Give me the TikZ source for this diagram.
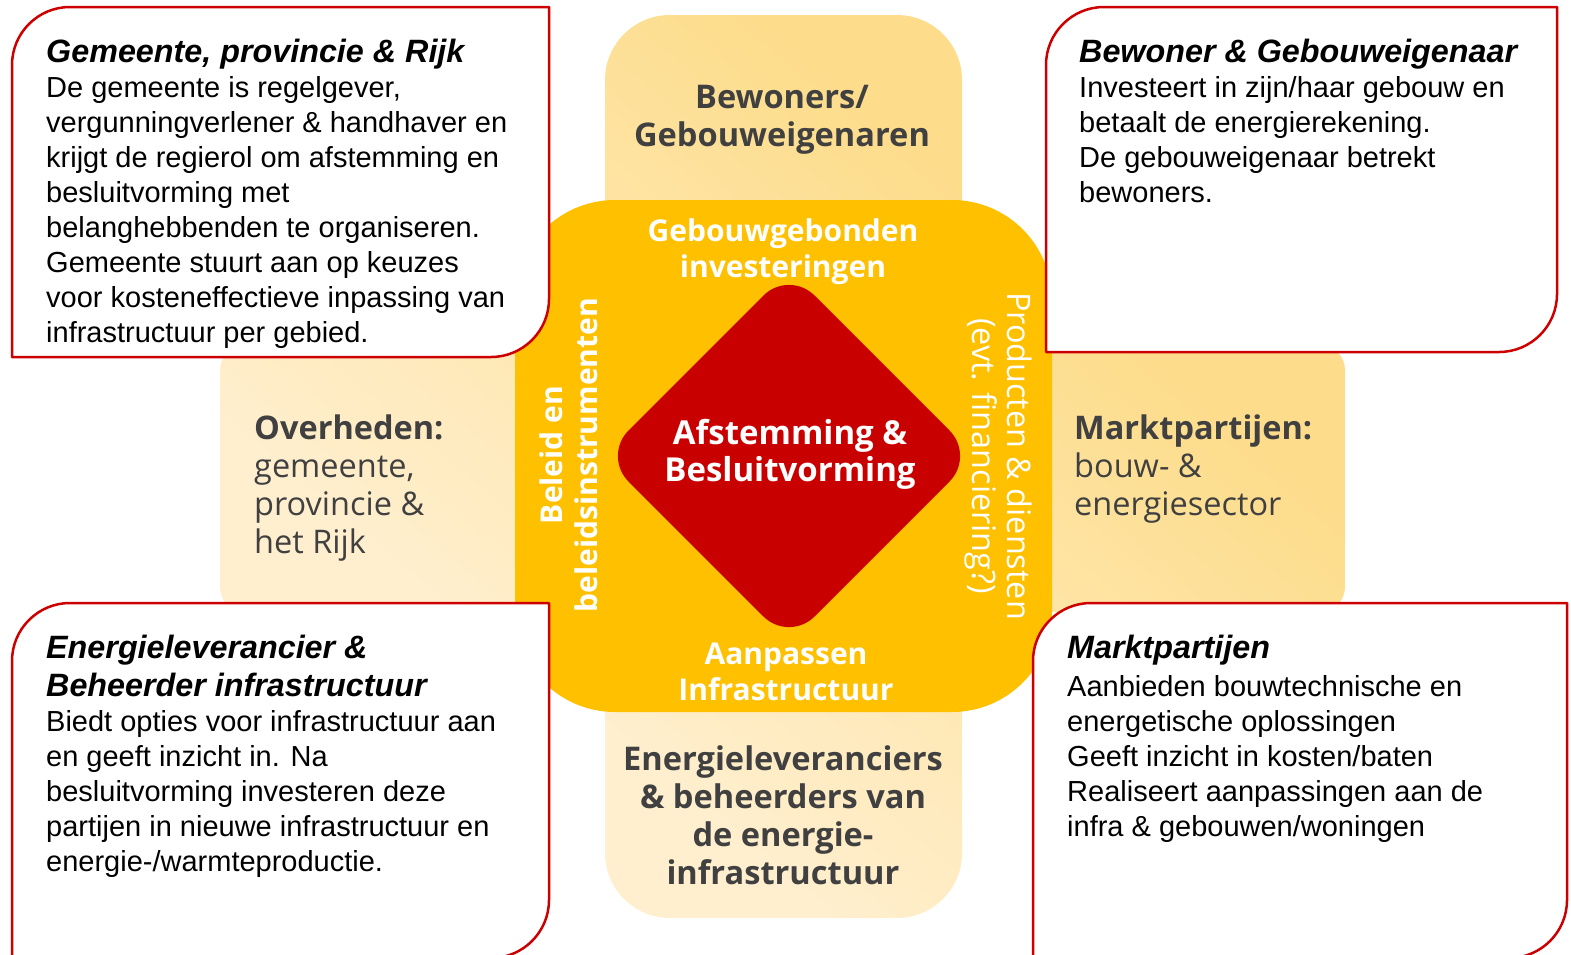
\documentclass[tikz,border=0pt]{standalone}
\usepackage{fontspec}
\setmainfont{Liberation Sans}
\newfontfamily\lab{Open Sans}
\definecolor{boxred}{HTML}{CC0000}
\definecolor{diamondred}{HTML}{C80000}
\definecolor{orangey}{HTML}{FFC000}
\definecolor{paledark}{HTML}{FDDD8C}
\definecolor{palelight}{HTML}{FFEFCF}
\definecolor{labgray}{HTML}{404040}
\tikzset{
  palebar/.style={top color=paledark, bottom color=palelight, shading angle=-40, draw=none},
  infobox/.style={draw=boxred, line width=2.5pt, fill=white, line join=round},
  boxtext/.style={anchor=base west, inner sep=0pt, text=black, font=\fontsize{29}{35}\selectfont},
  graylbl/.style={anchor=base, inner sep=0pt, text=labgray, font=\lab\fontsize{32.6}{38}\selectfont},
  whitelbl/.style={anchor=base, inner sep=0pt, text=white, font=\lab\fontsize{30}{36}\selectfont},
  sidelbl/.style={anchor=base west, inner sep=0pt, text=labgray, font=\lab\fontsize{32.5}{38}\selectfont},
}
\newcommand{\hd}[1]{{\fontsize{32.3}{35}\selectfont\bfseries\itshape #1}}
\begin{document}
\begin{tikzpicture}[x=1pt,y=-1pt]
\useasboundingbox (0,0) rectangle (1571,954);
% pale bars
\shade[palebar, rounded corners=25pt] (220,345) rectangle (1345,612);
\shade[palebar, rounded corners=65pt] (605,15) rectangle (962,918);
% orange square
\fill[orangey, rounded corners=100pt] (515,200) rectangle (1052,712);
% diamond
\fill[diamondred, rounded corners=36pt] (789,270) -- (975,456) -- (789,642) -- (603,456) -- cycle;
% info boxes
\draw[infobox] (12,200) [rounded corners=58pt] -- (12,7) [sharp corners] -- (549,7) [rounded corners=58pt] -- (549,357) [sharp corners] -- (12,357) -- cycle;
\draw[infobox] (1046,200) [rounded corners=58pt] -- (1046,7) [sharp corners] -- (1557,7) [rounded corners=58pt] -- (1557,352) [sharp corners] -- (1046,352) -- cycle;
\draw[infobox] (12,800) [rounded corners=58pt] -- (12,603) [sharp corners] -- (549,603) [rounded corners=58pt] -- (549,958) [sharp corners] -- (12,958) -- cycle;
\draw[infobox] (1033,800) [rounded corners=58pt] -- (1033,603) [sharp corners] -- (1567,603) [rounded corners=58pt] -- (1567,958) [sharp corners] -- (1033,958) -- cycle;
% box texts
\node[boxtext] (tl) at (46,62) {\parbox[t]{520pt}{\raggedright
  \hd{Gemeente, provincie \& Rijk}\\
  De gemeente is regelgever,\\
  vergunningverlener \& handhaver en\\
  krijgt de regierol om afstemming en\\
  besluitvorming met\\
  belanghebbenden te organiseren.\\
  Gemeente stuurt aan op keuzes\\
  voor kosteneffectieve inpassing van\\
  infrastructuur per gebied.}};
\node[boxtext] (tr) at (1079,62) {\parbox[t]{480pt}{\raggedright
  \hd{Bewoner \& Gebouweigenaar}\\
  Investeert in zijn/haar gebouw en\\
  betaalt de energierekening.\\
  De gebouweigenaar betrekt\\
  bewoners.}};
\node[boxtext] (bl) at (46,658) {\parbox[t]{520pt}{\raggedright
  \hd{Energieleverancier \&}\\[3pt]
  \hd{Beheerder infrastructuur}\\
  Biedt opties voor infrastructuur aan\\
  en geeft inzicht in. Na\\
  besluitvorming investeren deze\\
  partijen in nieuwe infrastructuur en\\
  energie-/warmteproductie.}};
\node[boxtext] (br) at (1067,658) {\parbox[t]{500pt}{\raggedright
  \hd{Marktpartijen}\\[3pt]
  Aanbieden bouwtechnische en\\
  energetische oplossingen\\
  Geeft inzicht in kosten/baten\\
  Realiseert aanpassingen aan de\\
  infra \& gebouwen/woningen}};
% central labels
\node[graylbl] (bew) at (782,108) {\parbox[t]{400pt}{\centering\bfseries Bewoners/\\Gebouweigenaren}};
\node[graylbl] (ener) at (783,770) {\parbox[t]{400pt}{\centering\bfseries Energieleveranciers\\\&~beheerders van\\de energie-\\infrastructuur}};
\node[whitelbl] (geb) at (783,241) {\parbox[t]{400pt}{\centering\bfseries Gebouwgebonden\\investeringen}};
\node[whitelbl] (aanp) at (786,664) {\parbox[t]{400pt}{\centering\bfseries Aanpassen\\Infrastructuur}};
\node[whitelbl, font=\lab\fontsize{33}{37}\selectfont] (afst) at (790,444) {\parbox[t]{400pt}{\centering\bfseries Afstemming \&\\Besluitvorming}};
\node[whitelbl, rotate=90, font=\lab\fontsize{30}{35}\selectfont] (bel) at (562,455) {\parbox[t]{400pt}{\centering\bfseries Beleid en\\beleidsinstrumenten}};
\node[whitelbl, rotate=-90, font=\lab\fontsize{32.4}{35}\selectfont] (prod) at (1007,456) {\parbox[t]{400pt}{\centering Producten \& diensten\\(evt. financiering?)}};
\node[sidelbl] (overh) at (254,439) {\parbox[t]{300pt}{\raggedright\textbf{Overheden:}\\gemeente,\\provincie \&\\het Rijk}};
\node[sidelbl] (markt) at (1074,439) {\parbox[t]{300pt}{\raggedright\textbf{Marktpartijen:}\\bouw- \&\\energiesector}};
\end{tikzpicture}
\end{document}
